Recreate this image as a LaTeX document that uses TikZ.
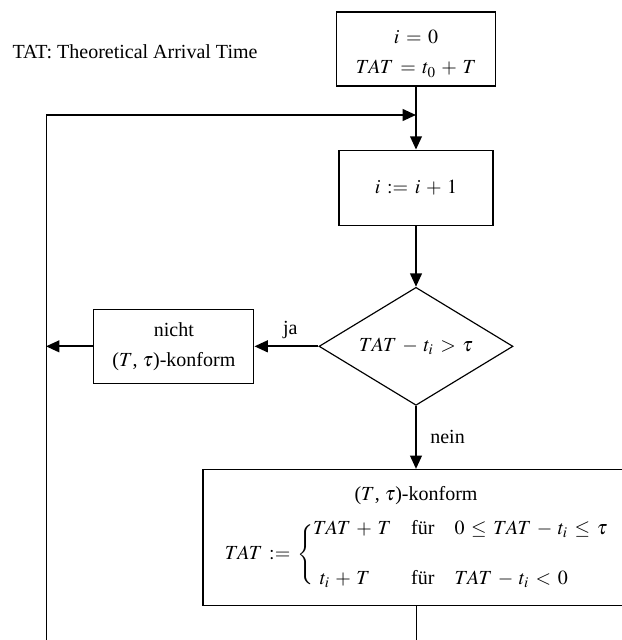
\documentclass[tikz,border=0pt,12pt]{standalone}
\usepackage{amsmath}
\usepackage{mathptmx}
\usepackage{fontspec}
\setmainfont{Liberation Serif}
\usetikzlibrary{arrows.meta, positioning, shapes.geometric}

\thickmuskip=6mu plus 3mu
\medmuskip=5mu plus 2mu minus 2mu

\tikzset{
  box/.style={draw, line width=0.7pt, align=center, inner sep=2pt},
  decision/.style={draw, diamond, line width=0.7pt, aspect=1.64, inner sep=1pt,
    minimum width=116.4pt, minimum height=70.8pt},
  flow/.style={line width=1.2pt, -{Triangle[length=8pt, width=7pt]}},
  plain/.style={line width=0.6pt},
}

\begin{document}
\begin{tikzpicture}[x=0.6pt, y=-0.6pt]
        \path[use as bounding box, clip] (0,0) rectangle (622,640);

        \node (title) at (135,52) {TAT: Theoretical Arrival Time};
        \node[box, minimum width=95.4pt, minimum height=44.4pt] (start) at (416,49)
            {\rule{0pt}{14pt}$i = 0$\\[3.5pt]$TAT = t_0 + T$};
        \node[box, below=37.8pt of start, minimum width=92.4pt, minimum height=45pt] (inc)
            {$i := i + 1$};
        \node[decision, below=36.6pt of inc] (test) {$TAT - t_i > \tau$};
        \node[box, left=38.4pt of test, minimum width=96pt, minimum height=44.4pt] (reject)
            {nicht\\[3.5pt]($T$, $\tau$)-konform};
        \node[box, below=37.8pt of test, minimum width=255.6pt, minimum height=81.6pt] (update)
            {\rule{0pt}{10.8pt}($T$, $\tau$)-konform\\[6.2pt]
             $TAT := \Biggl\{\begin{array}{@{}l@{\quad}l@{\quad}l@{}}
                TAT + T & \text{für} & 0 \le TAT - t_i \le \tau\\[16pt]
                \;t_i + T & \text{für} & TAT - t_i < 0
             \end{array}$};

        \coordinate (looptop) at (46,115);
        \coordinate (loopend) at (46,640);

        \draw[flow] (start) -- (inc);
        \draw[flow] (looptop) -- (looptop -| start);
        \draw[flow] (inc) -- (test);
        \draw[flow] (test) -- node[above, pos=0.44] {ja} (reject);
        \draw[flow] (test) -- node[right=4pt] {nein} (update);
        \draw[flow] (reject) -- (reject -| looptop);
        \draw[plain] (update) -- (update |- loopend);
        \draw[plain] (looptop) -- (loopend);
\end{tikzpicture}
\end{document}
